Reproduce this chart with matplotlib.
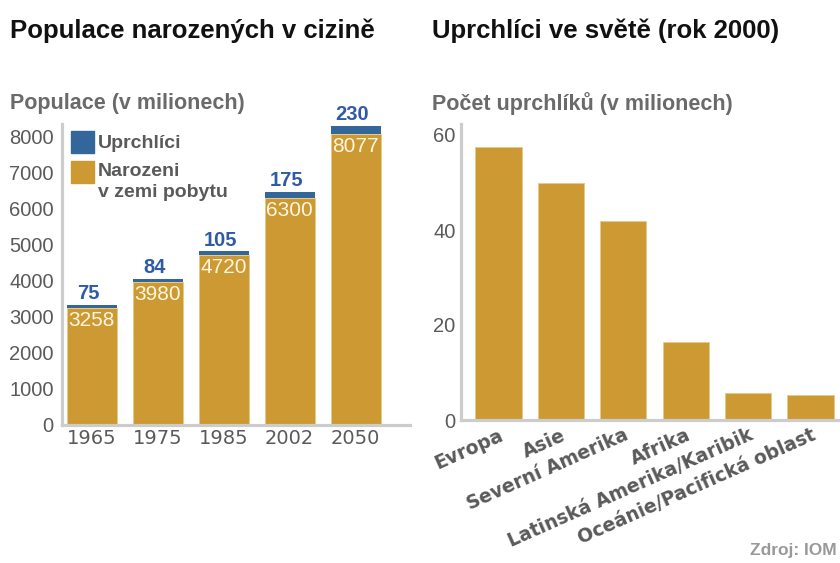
import matplotlib.pyplot as plt
from matplotlib.patches import Rectangle
from matplotlib.transforms import ScaledTranslation

plt.rcParams['font.family'] = ['Liberation Sans', 'DejaVu Sans']

# left chart data
years = ['1965', '1975', '1985', '2002', '2050']
narozeni = [3258, 3980, 4720, 6300, 8077]
uprchlici = [75, 84, 105, 175, 230]

# right chart data
regions = ['Evropa', 'Asie', 'Severní Amerika', 'Afrika',
           'Latinská Amerika/Karibik', 'Oceánie/Pacifická oblast']
refugees_2000 = [57.5, 50.0, 42.0, 16.4, 5.7, 5.3]

gold = '#CC9933'
blue = '#336699'
label_blue = '#2F5BA6'
grey = '#5a5a5a'
axis_grey = '#cccccc'

W, H = 840, 563
fig = plt.figure(figsize=(W / 100, H / 100), dpi=100)


def style_axes(ax):
    for s in ['top', 'right']:
        ax.spines[s].set_visible(False)
    for s in ['left', 'bottom']:
        ax.spines[s].set_color(axis_grey)
        ax.spines[s].set_linewidth(2.3)
    ax.tick_params(length=0, colors=grey)


# ---- left: foreign-born population ----
ax1 = fig.add_axes([62 / W, (H - 425) / H, 348 / W, (425 - 124) / H])
x1 = list(range(len(years)))
ax1.bar(x1, narozeni, width=0.76, color=gold, edgecolor='#e8c98a', linewidth=0.6)
ax1.bar(x1, uprchlici, width=0.76, bottom=narozeni, color=blue, linewidth=0)
ax1.set_xlim(-0.45, -0.45 + 348 / 66)
ax1.set_ylim(0, 301 / 0.036)
ax1.set_yticks(range(0, 8001, 1000))
ax1.set_xticks(x1)
ax1.set_xticklabels(years, fontsize=14, color=grey, family='DejaVu Sans')
for lab in ax1.get_yticklabels():
    lab.set_fontsize(14.5)
ax1.tick_params(axis='y', pad=6)
ax1.tick_params(axis='x', pad=3)
style_axes(ax1)

for xi, n, u in zip(x1, narozeni, uprchlici):
    ax1.text(xi - 0.05, n + u + 50, str(u), ha='center', va='bottom',
             fontsize=14.5, fontweight='bold', color=label_blue)
    ax1.text(xi, n - 80, str(n), ha='center', va='top',
             fontsize=15, color='#fff6e0')

# legend drawn by hand
ax1.add_patch(Rectangle((9 / 348, (425 - 153) / 301), 23 / 348, 22 / 301,
                        transform=ax1.transAxes, color=blue, clip_on=False))
ax1.add_patch(Rectangle((9 / 348, (425 - 183) / 301), 23 / 348, 22 / 301,
                        transform=ax1.transAxes, color=gold, clip_on=False))
ax1.text(36 / 348, (425 - 143) / 301, 'Uprchlíci', transform=ax1.transAxes,
         va='center', fontsize=14, fontweight='bold', color=grey)
ax1.text(36 / 348, (425 - 163) / 301, 'Narozeni\nv zemi pobytu',
         transform=ax1.transAxes, va='top', fontsize=14, fontweight='bold',
         color=grey, linespacing=1.3)

# ---- right: refugees in the world ----
ax2 = fig.add_axes([461 / W, (H - 420) / H, 377 / W, (420 - 124) / H])
x2 = list(range(len(regions)))
ax2.bar(x2, refugees_2000, width=0.74, color=gold, edgecolor='#e8c98a', linewidth=0.6)
ax2.set_xlim(-0.6, -0.6 + 377 / 62.4)
ax2.set_ylim(0, 296 / 4.75)
ax2.set_yticks([0, 20, 40, 60])
for lab in ax2.get_yticklabels():
    lab.set_fontsize(14.5)
ax2.tick_params(axis='y', pad=4)
ax2.set_xticks(x2)
ax2.set_xticklabels(regions, rotation=24, ha='right', rotation_mode='anchor',
                    fontsize=13.5, fontweight='bold', color='#666666',
                    family='DejaVu Sans')
shift = ScaledTranslation(0.09, -0.03, fig.dpi_scale_trans)
for lab in ax2.get_xticklabels():
    lab.set_transform(lab.get_transform() + shift)
ax2.tick_params(axis='x', pad=4)
style_axes(ax2)

# ---- titles and notes ----
fig.text(10 / W, 1 - 31 / H, 'Populace narozených v cizině', fontsize=18.5,
         fontweight='bold', color='#111111', va='center')
fig.text(432 / W, 1 - 31 / H, 'Uprchlíci ve světě (rok 2000)', fontsize=18.5,
         fontweight='bold', color='#111111', va='center')
fig.text(10 / W, 1 - 104 / H, 'Populace (v milionech)', fontsize=15.5,
         fontweight='bold', color='#6a6a6a', va='center')
fig.text(432 / W, 1 - 104 / H, 'Počet uprchlíků (v milionech)', fontsize=15.5,
         fontweight='bold', color='#6a6a6a', va='center')
fig.text(837 / W, 1 - 551 / H, 'Zdroj: IOM', fontsize=12.5, fontweight='bold',
         color='#999999', ha='right', va='center')

fig.savefig('out.png', dpi=100)
